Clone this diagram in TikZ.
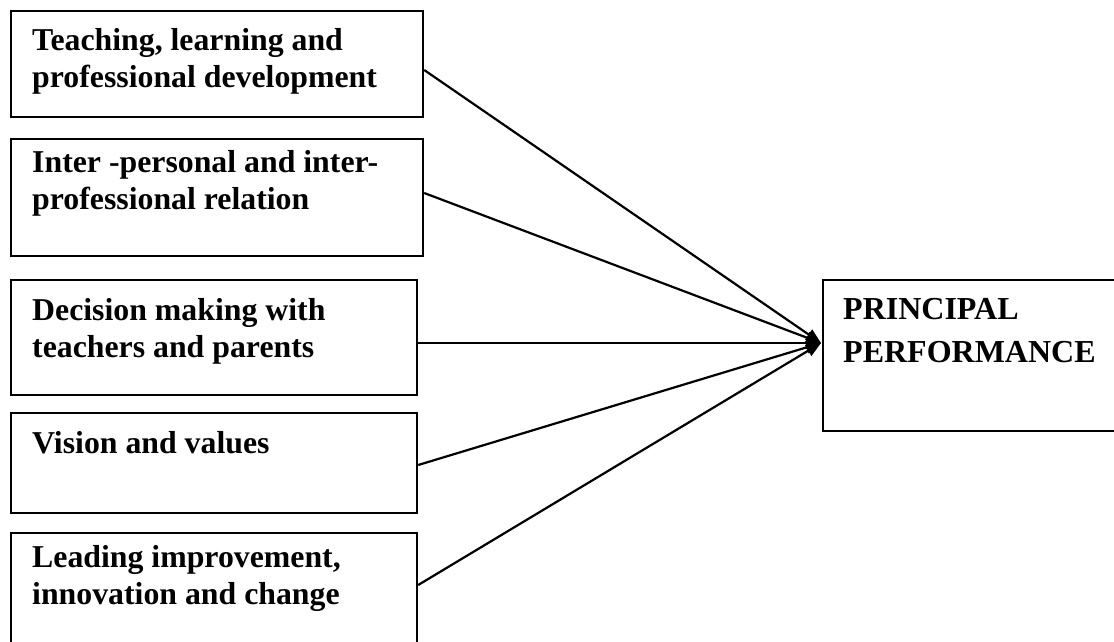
\documentclass[tikz,border=0pt]{standalone}
\usepackage{fontspec}
\setmainfont{Liberation Serif}
\usetikzlibrary{arrows.meta,calc}
\begin{document}
\begin{tikzpicture}[x=1pt,y=-1pt,
  box/.style={draw, line width=2.2pt, inner sep=0pt, anchor=north west},
  lbl/.style={anchor=base west, inner sep=0pt, align=left, font=\fontsize{31.8}{37.5}\selectfont\bfseries},
  big/.style={anchor=base west, inner sep=0pt, align=left, font=\fontsize{32}{43}\selectfont\bfseries},
  link/.style={line width=2.2pt, -{Triangle[length=15pt,width=12pt]}}]
\useasboundingbox (0,0) rectangle (1114,641);
\clip (0,0) rectangle (1114,641);
% boxes
\node[box, minimum width=412, minimum height=106] (b1) at (10,10) {};
\node[box, minimum width=412, minimum height=117] (b2) at (10,138) {};
\node[box, minimum width=406, minimum height=115] (b3) at (10,279) {};
\node[box, minimum width=406, minimum height=100] (b4) at (10,412) {};
\node[box, minimum width=406, minimum height=128] (b5) at (10,532) {};
\node[box, minimum width=308, minimum height=151] (p) at (822,279) {};
% texts (base = last line)
\node[lbl] (t1) at (32,87.5) {Teaching, learning and\\professional development};
\node[lbl] (t2) at (32,209.5) {Inter -personal and inter-\\professional relation};
\node[lbl] (t3) at (32,357.5) {Decision making with\\teachers and parents};
\node[lbl] (t4) at (32,453) {Vision and values};
\node[lbl] (t5) at (32,604.5) {Leading improvement,\\innovation and change};
\node[big] (tp) at (843,362) {PRINCIPAL\\PERFORMANCE};
% connector ends
\coordinate (s1) at ($(b1.north east)+(0,60)$);
\coordinate (s2) at ($(b2.north east)+(0,55)$);
\coordinate (s3) at ($(b3.north east)+(0,64)$);
\coordinate (s4) at ($(b4.north east)+(0,53)$);
\coordinate (s5) at ($(b5.north east)+(0,53)$);
\coordinate (tip) at ($(p.north west)+(-1,64)$);
\foreach \s in {s1,s2,s3,s4,s5} \draw[link] (\s) -- (tip);
\end{tikzpicture}
\end{document}
